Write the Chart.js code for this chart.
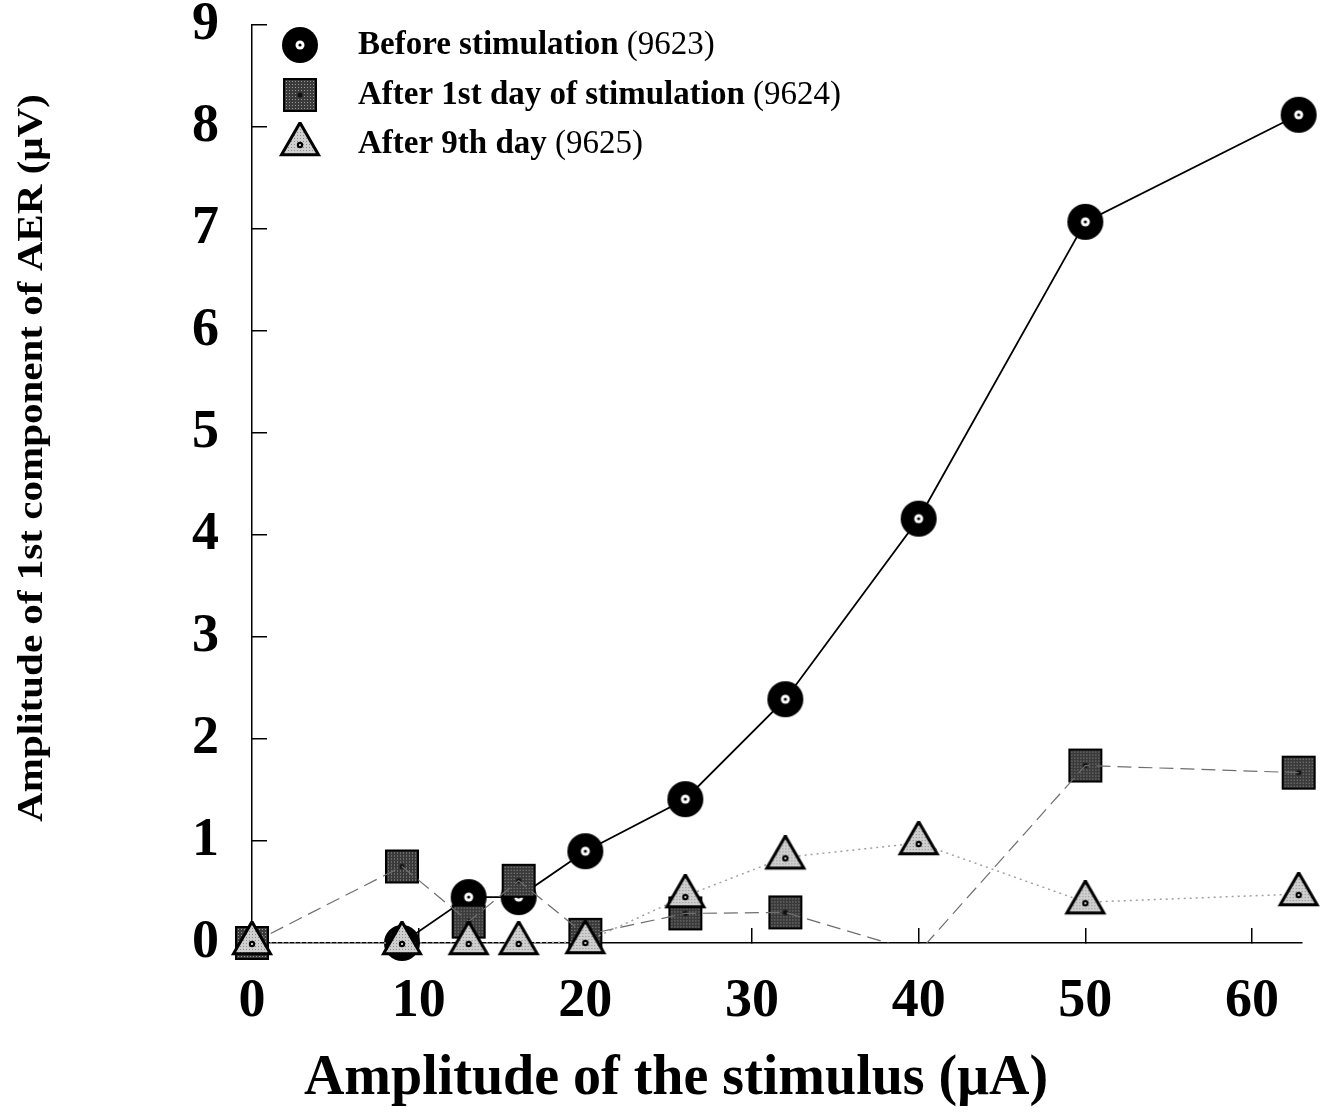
<!DOCTYPE html>
<html>
<head>
<meta charset="utf-8">
<script src="https://cdn.jsdelivr.net/npm/chart.js@4.4.1/dist/chart.umd.min.js"></script>
<style>
  html, body { margin: 0; padding: 0; background: #fff; }
  #wrap { width: 1325px; height: 1116px; }
</style>
</head>
<body>
<div id="wrap"><canvas id="myChart" width="1325" height="1116"></canvas></div>
<script>
// stimulus amplitudes (uA)
var xValues = [0, 9, 13, 16, 20, 26, 32, 40, 50, 62.8];
var beforeX = [9, 13, 16, 20, 26, 32, 40, 50, 62.8];
// amplitude of 1st AER component (uV)
var beforeValues = [0, 0.45, 0.45, 0.90, 1.41, 2.39, 4.16, 7.07, 8.12];
var day1Values = [0, 0.75, 0.21, 0.61, 0.08, 0.29, 0.30, -0.09, 1.74, 1.67];
var day9Values = [0, 0, 0, 0, 0.01, 0.46, 0.84, 0.98, 0.40, 0.48];

var xTicks = [0, 10, 20, 30, 40, 50, 60];
var yTicks = [0, 1, 2, 3, 4, 5, 6, 7, 8, 9];

var legendNames = ['Before stimulation', 'After 1st day of stimulation', 'After 9th day'];
var legendCodes = ['(9623)', '(9624)', '(9625)'];
var xTitle = 'Amplitude of the stimulus (\u03bcA)';
var yTitle = 'Amplitude of 1st component of AER (\u03bcV)';

var FONT = '"Liberation Serif", "Times New Roman", serif';

var toPoints = function(xs, ys) {
    return xs.map(function(x, i) { return { x: x, y: ys[i] }; });
};

var stipple = function(ctx, base, dot) {
    var p = document.createElement('canvas');
    p.width = 3; p.height = 3;
    var c = p.getContext('2d');
    c.fillStyle = base; c.fillRect(0, 0, 3, 3);
    c.fillStyle = dot; c.fillRect(1, 1, 1, 1);
    return ctx.createPattern(p, 'repeat');
};

// marker images
var circleImg = (function() {
    var cv = document.createElement('canvas');
    cv.width = 40; cv.height = 40;
    var c = cv.getContext('2d');
    c.fillStyle = '#000';
    c.beginPath(); c.arc(20, 20, 18, 0, Math.PI * 2); c.fill();
    c.fillStyle = '#fff';
    c.beginPath(); c.arc(20, 20, 4.5, 0, Math.PI * 2); c.fill();
    c.fillStyle = '#000';
    c.beginPath(); c.arc(20, 20, 1.6, 0, Math.PI * 2); c.fill();
    return cv;
})();

var squareImg = (function() {
    var cv = document.createElement('canvas');
    cv.width = 36; cv.height = 36;
    var c = cv.getContext('2d');
    c.fillStyle = '#000';
    c.fillRect(1, 1, 34, 34);
    c.fillStyle = stipple(c, '#3a3a3a', '#9a9a9a');
    c.fillRect(3, 3, 30, 30);
    c.fillStyle = '#111';
    c.beginPath(); c.arc(18, 18, 2.5, 0, Math.PI * 2); c.fill();
    return cv;
})();

var triangleImg = (function() {
    var cv = document.createElement('canvas');
    cv.width = 44; cv.height = 44;
    var c = cv.getContext('2d');
    var h = 32, w = 37, cy = 22;
    c.beginPath();
    c.moveTo(22, cy - h * 2 / 3);
    c.lineTo(22 + w / 2, cy + h / 3);
    c.lineTo(22 - w / 2, cy + h / 3);
    c.closePath();
    c.fillStyle = stipple(c, '#cfcfcf', '#8a8a8a');
    c.fill();
    c.lineWidth = 3;
    c.lineJoin = 'miter';
    c.strokeStyle = '#000';
    c.stroke();
    c.fillStyle = '#000';
    c.beginPath(); c.arc(22, cy + 1, 3.2, 0, Math.PI * 2); c.fill();
    c.fillStyle = '#fff';
    c.beginPath(); c.arc(22, cy + 1, 1, 0, Math.PI * 2); c.fill();
    return cv;
})();

var markers = [circleImg, squareImg, triangleImg];

var titlesAndLegend = {
    id: 'titlesAndLegend',
    afterDraw: function(chart) {
        var ctx = chart.ctx;
        ctx.save();
        ctx.fillStyle = '#000';
        // x title
        ctx.font = 'bold 56px ' + FONT;
        ctx.textAlign = 'center';
        ctx.textBaseline = 'alphabetic';
        ctx.fillText(xTitle, 676, 1094);
        // y title (slightly stretched along its length, like the original)
        ctx.save();
        ctx.translate(42, 458);
        ctx.rotate(-Math.PI / 2);
        ctx.scale(1.14, 1);
        ctx.font = 'bold 36px ' + FONT;
        ctx.fillText(yTitle, 0, 0);
        ctx.restore();
        // legend
        ctx.textAlign = 'left';
        ctx.textBaseline = 'middle';
        var rows = [45, 95, 144];
        legendNames.forEach(function(name, i) {
            var img = markers[i];
            ctx.drawImage(img, 300 - img.width / 2, rows[i] - img.height / 2);
            ctx.font = 'bold 33px ' + FONT;
            ctx.fillText(name, 358, rows[i]);
            var w = ctx.measureText(name + ' ').width;
            ctx.font = '33px ' + FONT;
            ctx.fillText(legendCodes[i], 358 + w, rows[i]);
        });
        ctx.restore();
    }
};

var noPad = function(s) {
    s.paddingTop = 0; s.paddingBottom = 0; s.paddingLeft = 0; s.paddingRight = 0;
};

const ctx = document.getElementById('myChart');

new Chart(ctx, {
    type: 'line',
    data: {
        datasets: [
            {
                label: legendNames[0],
                data: toPoints(beforeX, beforeValues),
                borderColor: '#000',
                borderWidth: 1.8,
                pointStyle: circleImg,
                pointRadius: 18,
                clip: 30,
                order: 3
            },
            {
                label: legendNames[1],
                data: toPoints(xValues, day1Values),
                borderColor: '#6e6e6e',
                borderWidth: 1.2,
                borderDash: [14, 7],
                pointRadius: 0,
                clip: { left: 30, top: 30, right: 30, bottom: 0 },
                order: 2
            },
            {
                label: legendNames[1],
                data: toPoints(xValues, day1Values),
                showLine: false,
                pointStyle: squareImg,
                pointRadius: function(c) { return c.raw && c.raw.y < 0 ? 0 : 17; },
                clip: 30,
                order: 2
            },
            {
                label: legendNames[2],
                data: toPoints(xValues, day9Values),
                borderColor: '#a0a0a0',
                borderWidth: 1.5,
                borderDash: [2, 4],
                pointStyle: triangleImg,
                pointRadius: 18,
                clip: 30,
                order: 1
            }
        ]
    },
    options: {
        responsive: false,
        animation: false,
        layout: { padding: { top: 25, right: 23, left: 0, bottom: 0 } },
        plugins: {
            legend: { display: false },
            tooltip: { enabled: false }
        },
        scales: {
            x: {
                type: 'linear',
                min: 0,
                max: 63,
                afterBuildTicks: function(s) { s.ticks = xTicks.map(function(v) { return { value: v }; }); },
                afterFit: function(s) { s.height = 173; noPad(s); },
                border: { display: true, color: '#000', width: 1.5 },
                grid: { drawOnChartArea: false, drawTicks: true, tickLength: -15, color: '#000', lineWidth: 1.5 },
                ticks: {
                    color: '#000',
                    padding: 42,
                    maxRotation: 0,
                    font: { family: FONT, weight: 'bold', size: 54 }
                }
            },
            y: {
                type: 'linear',
                min: 0,
                max: 9,
                afterBuildTicks: function(s) { s.ticks = yTicks.map(function(v) { return { value: v }; }); },
                afterFit: function(s) { s.width = 252; noPad(s); },
                border: { display: true, color: '#000', width: 1.5 },
                grid: { drawOnChartArea: false, drawTicks: true, tickLength: -15, color: '#000', lineWidth: 1.5 },
                ticks: {
                    color: '#000',
                    padding: 48,
                    font: { family: FONT, weight: 'bold', size: 54 }
                }
            }
        }
    },
    plugins: [titlesAndLegend]
});
</script>
</body>
</html>
